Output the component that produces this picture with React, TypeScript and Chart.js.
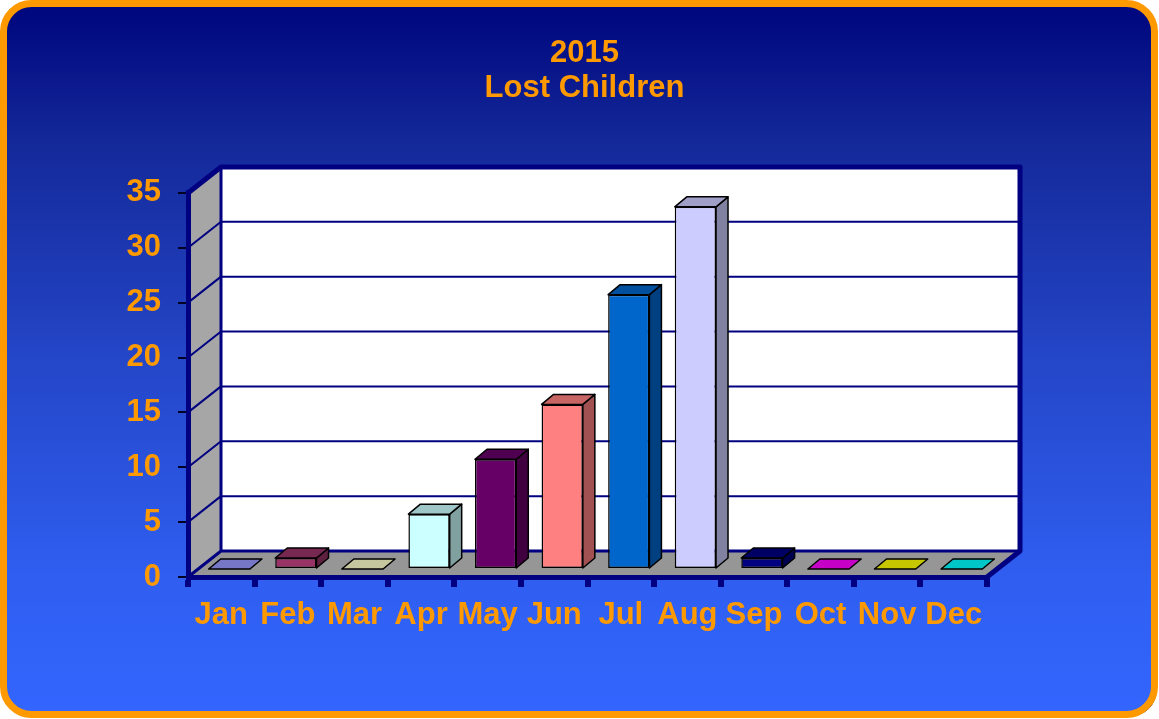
import React, { useEffect, useRef } from 'react';
import { Chart, registerables } from 'chart.js';

Chart.register(...registerables);

const months = ['Jan', 'Feb', 'Mar', 'Apr', 'May', 'Jun', 'Jul', 'Aug', 'Sep', 'Oct', 'Nov', 'Dec'];
const lostChildren = [0, 1, 0, 5, 10, 15, 25, 33, 1, 0, 0, 0];
const barColors = ['#9999FF', '#993366', '#FFFFCC', '#CCFFFF', '#660066', '#FF8080', '#0066CC', '#CCCCFF', '#000080', '#FF00FF', '#FFFF00', '#00FFFF'];
const titleLines = ['2015', 'Lost Children'];
const yMin = 0;
const yMax = 35;
const yStep = 5;

const FONT = "'Liberation Sans', Arial, Helvetica, sans-serif";
const ORANGE = '#ff9900';
const NAVY = '#000080';
const WALL_DX = 33;
const WALL_DY = 26;
const BAR_SHIFT_X = 8;
const BAR_SHIFT_Y = -8;
const BAR_DX = 12;
const BAR_DY = 10;

function shade(hex: string, f: number): string {
  const h = hex.replace('#', '');
  const r = Math.round(parseInt(h.slice(0, 2), 16) * f);
  const g = Math.round(parseInt(h.slice(2, 4), 16) * f);
  const b = Math.round(parseInt(h.slice(4, 6), 16) * f);
  return `rgb(${r},${g},${b})`;
}

function rr(ctx: CanvasRenderingContext2D, x: number, y: number, w: number, h: number, r: number) {
  ctx.beginPath();
  ctx.moveTo(x + r, y);
  ctx.lineTo(x + w - r, y);
  ctx.arcTo(x + w, y, x + w, y + r, r);
  ctx.lineTo(x + w, y + h - r);
  ctx.arcTo(x + w, y + h, x + w - r, y + h, r);
  ctx.lineTo(x + r, y + h);
  ctx.arcTo(x, y + h, x, y + h - r, r);
  ctx.lineTo(x, y + r);
  ctx.arcTo(x, y, x + r, y, r);
  ctx.closePath();
}

function poly(ctx: CanvasRenderingContext2D, pts: number[][]) {
  ctx.beginPath();
  ctx.moveTo(pts[0][0], pts[0][1]);
  for (let i = 1; i < pts.length; i++) ctx.lineTo(pts[i][0], pts[i][1]);
  ctx.closePath();
}

const threeD = {
  id: 'threeD',
  beforeDraw(chart: any) {
    const { ctx, width, height, chartArea } = chart;
    const ys = chart.scales.y;
    ctx.save();
    ctx.fillStyle = '#000';
    rr(ctx, 5.5, 5.5, width - 7.5, height - 7.5, 28);
    ctx.fill();
    const g = ctx.createLinearGradient(0, 0, 0, height);
    g.addColorStop(0.02, '#00087f');
    g.addColorStop(0.2, '#14299a');
    g.addColorStop(0.5, '#2446c8');
    g.addColorStop(0.8, '#2f5ef0');
    g.addColorStop(1, '#3366ff');
    rr(ctx, 3.5, 3.5, width - 8, height - 8, 28);
    ctx.fillStyle = g;
    ctx.fill();
    ctx.lineWidth = 7;
    ctx.strokeStyle = ORANGE;
    ctx.stroke();

    const L = chartArea.left;
    const R = chartArea.right;
    const T = ys.getPixelForValue(yMax);
    const B = ys.getPixelForValue(yMin);
    const dx = WALL_DX;
    const dy = WALL_DY;

    poly(ctx, [[L, T], [L + dx, T - dy], [L + dx, B - dy], [L, B]]);
    ctx.fillStyle = '#a6a6a6';
    ctx.fill();
    poly(ctx, [[L, B], [R, B], [R + dx, B - dy], [L + dx, B - dy]]);
    ctx.fillStyle = '#969696';
    ctx.fill();
    ctx.fillStyle = '#ffffff';
    ctx.fillRect(L + dx, T - dy, R - L, B - T);

    ctx.strokeStyle = NAVY;
    ctx.lineWidth = 2;
    ys.ticks.forEach((t: any) => {
      if (t.value <= yMin || t.value >= yMax) return;
      const py = ys.getPixelForValue(t.value);
      ctx.beginPath();
      ctx.moveTo(L + dx, py - dy);
      ctx.lineTo(R + dx, py - dy);
      ctx.moveTo(L, py);
      ctx.lineTo(L + dx, py - dy);
      ctx.stroke();
    });
    ctx.lineWidth = 3;
    ctx.beginPath();
    ctx.moveTo(L + dx, T - dy);
    ctx.lineTo(L + dx, B - dy);
    ctx.lineTo(R + dx, B - dy);
    ctx.moveTo(L, B);
    ctx.lineTo(L + dx, B - dy);
    ctx.stroke();
    ctx.lineWidth = 5;
    ctx.lineJoin = 'round';
    ctx.beginPath();
    ctx.moveTo(L, T);
    ctx.lineTo(L + dx, T - dy);
    ctx.lineTo(R + dx, T - dy);
    ctx.lineTo(R + dx, B - dy);
    ctx.lineTo(R, B);
    ctx.stroke();
    ctx.restore();
  },
  beforeDatasetsDraw(chart: any) {
    chart.ctx.save();
    chart.ctx.translate(BAR_SHIFT_X, BAR_SHIFT_Y);
  },
  afterDatasetsDraw(chart: any) {
    const ctx = chart.ctx;
    ctx.restore();
    const meta = chart.getDatasetMeta(0);
    ctx.save();
    ctx.lineWidth = 1.5;
    ctx.strokeStyle = '#000';
    ctx.lineJoin = 'round';
    meta.data.forEach((el: any, i: number) => {
      const { x, y, base, width } = el.getProps(['x', 'y', 'base', 'width'], true);
      const x0 = x - width / 2 + BAR_SHIFT_X;
      const x1 = x + width / 2 + BAR_SHIFT_X;
      const yt = Math.min(y, base) + BAR_SHIFT_Y;
      const yb = Math.max(y, base) + BAR_SHIFT_Y;
      const c = barColors[i];
      if (yb - yt > 0.5) {
        poly(ctx, [[x1, yt], [x1 + BAR_DX, yt - BAR_DY], [x1 + BAR_DX, yb - BAR_DY], [x1, yb]]);
        ctx.fillStyle = shade(c, 0.63);
        ctx.fill();
        ctx.stroke();
      }
      poly(ctx, [[x0, yt], [x1, yt], [x1 + BAR_DX, yt - BAR_DY], [x0 + BAR_DX, yt - BAR_DY]]);
      ctx.fillStyle = shade(c, 0.78);
      ctx.fill();
      ctx.stroke();
    });
    ctx.restore();
  },
};

export default function App() {
  const ref = useRef<HTMLCanvasElement | null>(null);
  useEffect(() => {
    document.body.style.margin = '0';
    const canvas = ref.current;
    if (!canvas) return;
    const tickFont = { family: FONT, size: 31, weight: 'bold' as const };
    const chart = new Chart(canvas, {
      type: 'bar',
      data: {
        labels: months,
        datasets: [
          {
            data: lostChildren,
            backgroundColor: barColors,
            borderColor: '#000000',
            borderWidth: 1.5,
            borderSkipped: false,
            barPercentage: 0.62,
            categoryPercentage: 1,
            clip: false as any,
          },
        ],
      },
      options: {
        responsive: false,
        animation: false,
        layout: { padding: { left: 10, right: 0, top: 0, bottom: 82 } },
        plugins: {
          legend: { display: false },
          tooltip: { enabled: false },
          title: {
            display: true,
            text: titleLines,
            color: ORANGE,
            font: { family: FONT, size: 31, weight: 'bold', lineHeight: 1.16 },
            padding: { top: 35, bottom: 86 },
          },
        },
        scales: {
          x: {
            offset: true,
            grid: { offset: true, drawOnChartArea: false, drawTicks: true, tickLength: 10, lineWidth: 6, color: NAVY },
            border: { display: true, color: NAVY, width: 5 },
            ticks: { color: ORANGE, font: tickFont, padding: 10, autoSkip: false, maxRotation: 0 },
            afterFit: (s: any) => { s.height = 60; },
          },
          y: {
            min: yMin,
            max: yMax,
            ticks: { stepSize: yStep, color: ORANGE, font: tickFont, padding: 17 },
            grid: { drawOnChartArea: false, drawTicks: true, tickLength: 10, lineWidth: 2, color: '#000022' },
            border: { display: true, color: NAVY, width: 5 },
            afterFit: (s: any) => { s.width = 178; },
          },
          y2: {
            position: 'right',
            display: true,
            grid: { display: false },
            ticks: { display: false },
            border: { display: false },
            afterFit: (s: any) => { s.width = 172; },
          },
        },
      } as any,
      plugins: [threeD],
    });
    return () => chart.destroy();
  }, []);
  return (
    <div style={{ position: 'fixed', left: 0, top: 0, width: 1159, height: 719 }}>
      <canvas ref={ref} width={1159} height={719} style={{ width: 1159, height: 719, display: 'block' }} />
    </div>
  );
}
